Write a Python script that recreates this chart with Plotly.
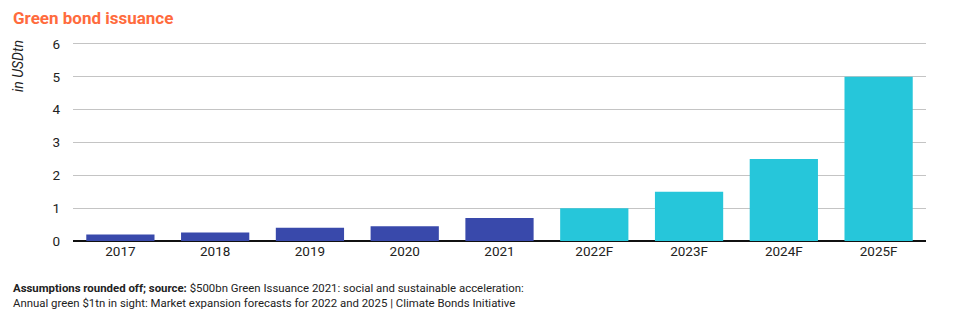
import plotly.graph_objects as go

years = ["2017", "2018", "2019", "2020", "2021", "2022F", "2023F", "2024F", "2025F"]
values = [0.2, 0.26, 0.4, 0.45, 0.7, 1.0, 1.5, 2.5, 5.0]
colors = ["#3949AB"] * 5 + ["#26C6DA"] * 4

fig = go.Figure(go.Bar(x=years, y=values, marker=dict(color=colors, line=dict(width=0)), hoverinfo="x+y"))

fig.update_layout(
    width=980, height=321,
    margin=dict(l=73, r=54, t=41, b=80),
    plot_bgcolor="white", paper_bgcolor="white",
    bargap=0.28,
    showlegend=False,
    font=dict(family="Roboto", size=13, color="#222"),
    xaxis=dict(showgrid=False, ticks="", tickfont=dict(size=13.5), showline=False),
    yaxis=dict(range=[0, 6.09], tickvals=[0, 1, 2, 3, 4, 5, 6], showgrid=True, gridcolor="#c4c4c4", gridwidth=1,
               zeroline=True, zerolinecolor="#111", zerolinewidth=2,
               tickfont=dict(size=13.5), ticklabelstandoff=12),
)

fig.add_annotation(text="<b>Green bond issuance</b>", xref="paper", yref="paper",
                   x=0, y=1, xanchor="left", yanchor="bottom", showarrow=False,
                   font=dict(size=17, color="#FF6B3D", family="Roboto", weight=900),
                   xshift=-62, yshift=11)
fig.add_annotation(text="<i>in USDtn</i>", xref="paper", yref="paper",
                   x=0, y=1, xanchor="center", yanchor="top", textangle=-90, showarrow=False,
                   font=dict(size=14, color="#222"), xshift=-55, yshift=3)
fig.add_annotation(text="<b>Assumptions rounded off; source:</b> $500bn Green Issuance 2021: social and sustainable acceleration:<br>Annual green $1tn in sight: Market expansion forecasts for 2022 and 2025 | Climate Bonds Initiative",
                   xref="paper", yref="paper", x=0, y=0, xanchor="left", yanchor="top",
                   align="left", showarrow=False, xshift=-62, yshift=-38,
                   font=dict(size=11.4, color="#222"))

fig.write_html("out.html")
